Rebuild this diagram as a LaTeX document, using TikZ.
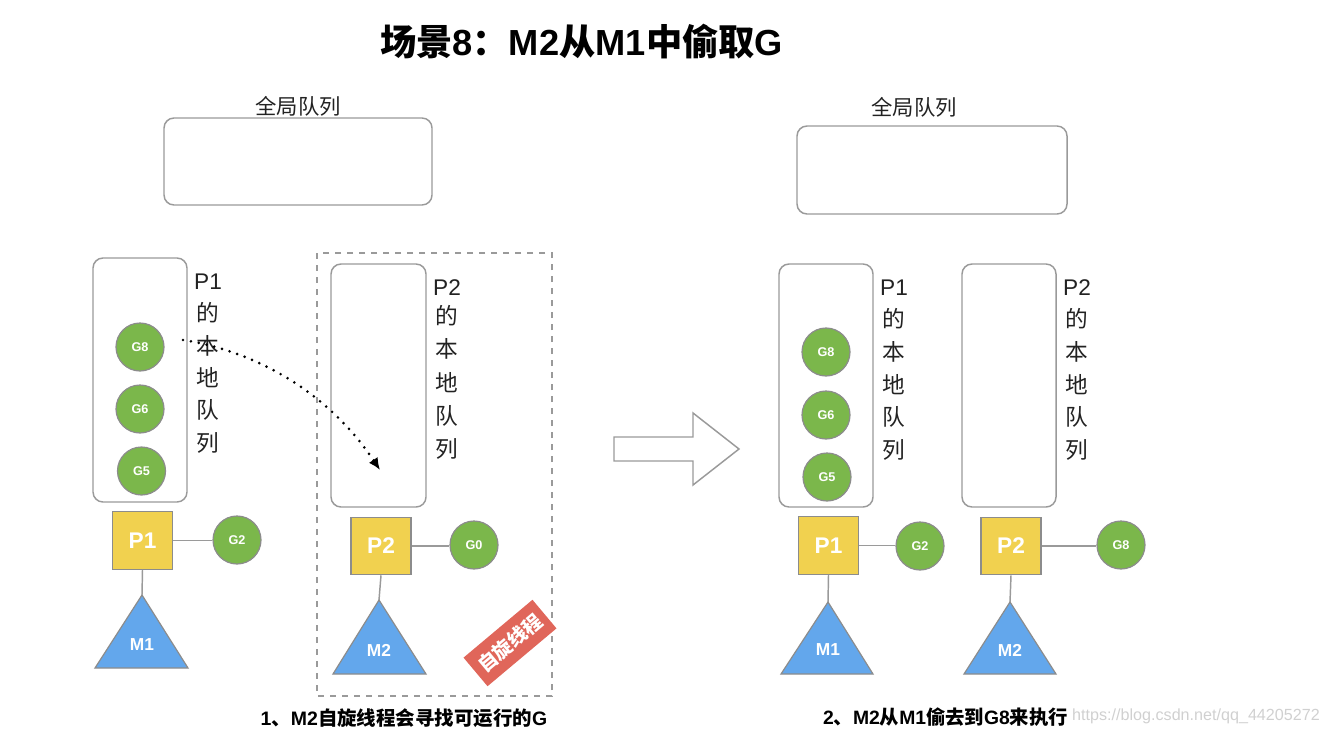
\documentclass[tikz,border=0pt]{standalone}
\usepackage{fontspec}
\setmainfont{Liberation Sans}
\newfontfamily\cjk{Noto Sans CJK SC}
\usetikzlibrary{arrows.meta}
\definecolor{gfill}{HTML}{7BB74B}
\definecolor{pfill}{HTML}{F1D14F}
\definecolor{mfill}{HTML}{63A7EC}
\definecolor{rfill}{HTML}{E0665A}
\definecolor{edge}{HTML}{9A9A9A}
\definecolor{shapeedge}{HTML}{8C8C8C}
\definecolor{wm}{HTML}{D0D0D0}
\definecolor{txt}{HTML}{222222}
\begin{document}
\begin{tikzpicture}[x=0.75pt,y=-0.75pt,
  qbox/.style={draw=edge, line width=1.1pt, rounded corners=7.5pt, inner sep=0},
  gnode/.style={circle, draw=shapeedge, line width=0.9pt, fill=gfill, minimum size=36pt, inner sep=0, text=white, font=\bfseries\fontsize{9.5}{10}\selectfont},
  pnode/.style={rectangle, draw=shapeedge, line width=0.9pt, fill=pfill, minimum width=45pt, minimum height=43pt, inner sep=0, text=white, font=\bfseries\fontsize{17}{18}\selectfont},
  mtri/.style={draw=shapeedge, line width=0.9pt, fill=mfill},
  mlab/.style={text=white, font=\bfseries\fontsize{13}{14}\selectfont, inner sep=0},
  link/.style={draw=edge, line width=1.1pt},
  vlab/.style={inner sep=0, text=txt, font=\fontsize{17}{18}\selectfont},
  glab/.style={inner sep=0, text=txt, font=\cjk\fontsize{16}{18}\selectfont},
  caption/.style={inner sep=0, text=black, font=\bfseries\fontsize{14.6}{16}\selectfont},
  dashbox/.style={draw=edge, line width=1.1pt, dash pattern=on 4.5pt off 4.5pt},
  dotarrow/.style={line width=2.2pt, line cap=round, dash pattern=on 0pt off 6pt, -{Latex[length=9pt,width=8pt]}},
  bigarrow/.style={draw=edge, line width=1.1pt, fill=white},
  badge/.style={fill=rfill, text=white, minimum width=67.5pt, minimum height=28pt, inner sep=0, font=\cjk\bfseries\fontsize{14.5}{16}\selectfont}
]
\useasboundingbox (0,0) rectangle (1330,731);

% title
\node[inner sep=0, font=\bfseries\fontsize{27.2}{30}\selectfont] (title) at (581.5,42) {{\cjk 场景}8{\cjk ：}M2{\cjk 从}M1{\cjk 中偷取}G};

% ---------- left scene ----------
\node[glab] (gqlabL) at (298,106) {全局队列};
\node[qbox, minimum width=201pt, minimum height=65.25pt] (gqL) at (298,161.5) {};

\node[qbox, minimum width=70.5pt, minimum height=183pt] (q1L) at (140,380) {};
\node[vlab] (l1a) at (208,282) {P1};
\foreach \t/\yy [count=\i] in {的/313,本/346,地/378,队/410,列/443}
  \node[vlab, font=\cjk\fontsize{17}{18}\selectfont] (l1-\i) at (208,\yy) {\t};
\node[gnode] (g8L) at (140,347) {G8};
\node[gnode] (g6L) at (140,409) {G6};
\node[gnode] (g5L) at (141.5,471) {G5};
\node[pnode] (p1L) at (142.5,540.5) {P1};
\node[gnode] (g2L) at (237,540) {G2};
\coordinate (m1topL) at (142,595);
\draw[mtri] (m1topL) -- (188,668) -- (95,668) -- cycle;
\node[mlab] (m1L) at (142,645) {M1};
\draw[link] (p1L.east) -- (p1L.east -| g2L.west);
\draw[link] (p1L.south) -- (m1topL);

\draw[dashbox] (317,253) rectangle (552,696);
\node[qbox, minimum width=71.25pt, minimum height=182.25pt] (q2L) at (378.5,385.5) {};
\node[vlab] (l2a) at (447,288) {P2};
\foreach \t/\yy [count=\i] in {的/316,本/349,地/383,队/416,列/449}
  \node[vlab, font=\cjk\fontsize{17}{18}\selectfont] (l2-\i) at (447,\yy) {\t};
\node[pnode] (p2L) at (381,546) {P2};
\node[gnode] (g0L) at (474,545) {G0};
\coordinate (m2topL) at (379,600);
\draw[mtri] (m2topL) -- (426,674) -- (333,674) -- cycle;
\node[mlab] (m2L) at (379,650) {M2};
\draw[link] (p2L.east) -- (p2L.east -| g0L.west);
\draw[link] (p2L.south) -- (m2topL);
\node[badge, rotate=40] (spin) at (510,643) {自旋线程};

\coordinate (stealS) at (183,340);
\coordinate (stealE) at (380,470);
\draw[dotarrow] (stealS) .. controls (260,352) and (330,395) .. (stealE);

\node[caption] (cap1) at (404,718) {1{\cjk 、}M2{\cjk 自旋线程会寻找可运行的}G};

% ---------- big arrow ----------
\draw[bigarrow] (614,437) -- (693,437) -- (693,413) -- (739,449) -- (693,485) -- (693,461) -- (614,461) -- cycle;

% ---------- right scene ----------
\node[glab] (gqlabR) at (914,107) {全局队列};
\node[qbox, minimum width=202.5pt, minimum height=66pt] (gqR) at (932,170) {};

\node[qbox, minimum width=70.5pt, minimum height=182.25pt] (q1R) at (826,385.5) {};
\node[vlab] (r1a) at (894,288) {P1};
\foreach \t/\yy [count=\i] in {的/319,本/352,地/385,队/417,列/450}
  \node[vlab, font=\cjk\fontsize{17}{18}\selectfont] (r1-\i) at (894,\yy) {\t};
\node[gnode] (g8R) at (826,352) {G8};
\node[gnode] (g6R) at (826,415) {G6};
\node[gnode] (g5R) at (827,477) {G5};
\node[pnode] (p1R) at (828.5,545.5) {P1};
\node[gnode] (g2R) at (920,546) {G2};
\coordinate (m1topR) at (828,602);
\draw[mtri] (m1topR) -- (873,674) -- (781,674) -- cycle;
\node[mlab] (m1R) at (828,650) {M1};
\draw[link] (p1R.east) -- (p1R.east -| g2R.west);
\draw[link] (p1R.south) -- (m1topR);

\node[qbox, minimum width=70.5pt, minimum height=182.25pt] (q2R) at (1009,385.5) {};
\node[vlab] (r2a) at (1077,288) {P2};
\foreach \t/\yy [count=\i] in {的/319,本/352,地/385,队/417,列/450}
  \node[vlab, font=\cjk\fontsize{17}{18}\selectfont] (r2-\i) at (1077,\yy) {\t};
\node[pnode] (p2R) at (1011,546) {P2};
\node[gnode] (g8R2) at (1121,545) {G8};
\coordinate (m2topR) at (1010,602);
\draw[mtri] (m2topR) -- (1056,674) -- (964,674) -- cycle;
\node[mlab] (m2R) at (1010,650) {M2};
\draw[link] (p2R.east) -- (p2R.east -| g8R2.west);
\draw[link] (p2R.south) -- (m2topR);

\node[caption, font=\bfseries\fontsize{14.5}{16}\selectfont] (cap2) at (945.5,717) {2{\cjk 、}M2{\cjk 从}M1{\cjk 偷去到}G8{\cjk 来执行}};
\node[inner sep=0, text=wm, font=\fontsize{12.1}{13}\selectfont] (wmark) at (1196,716) {https://blog.csdn.net/qq\_44205272};
\end{tikzpicture}
\end{document}
